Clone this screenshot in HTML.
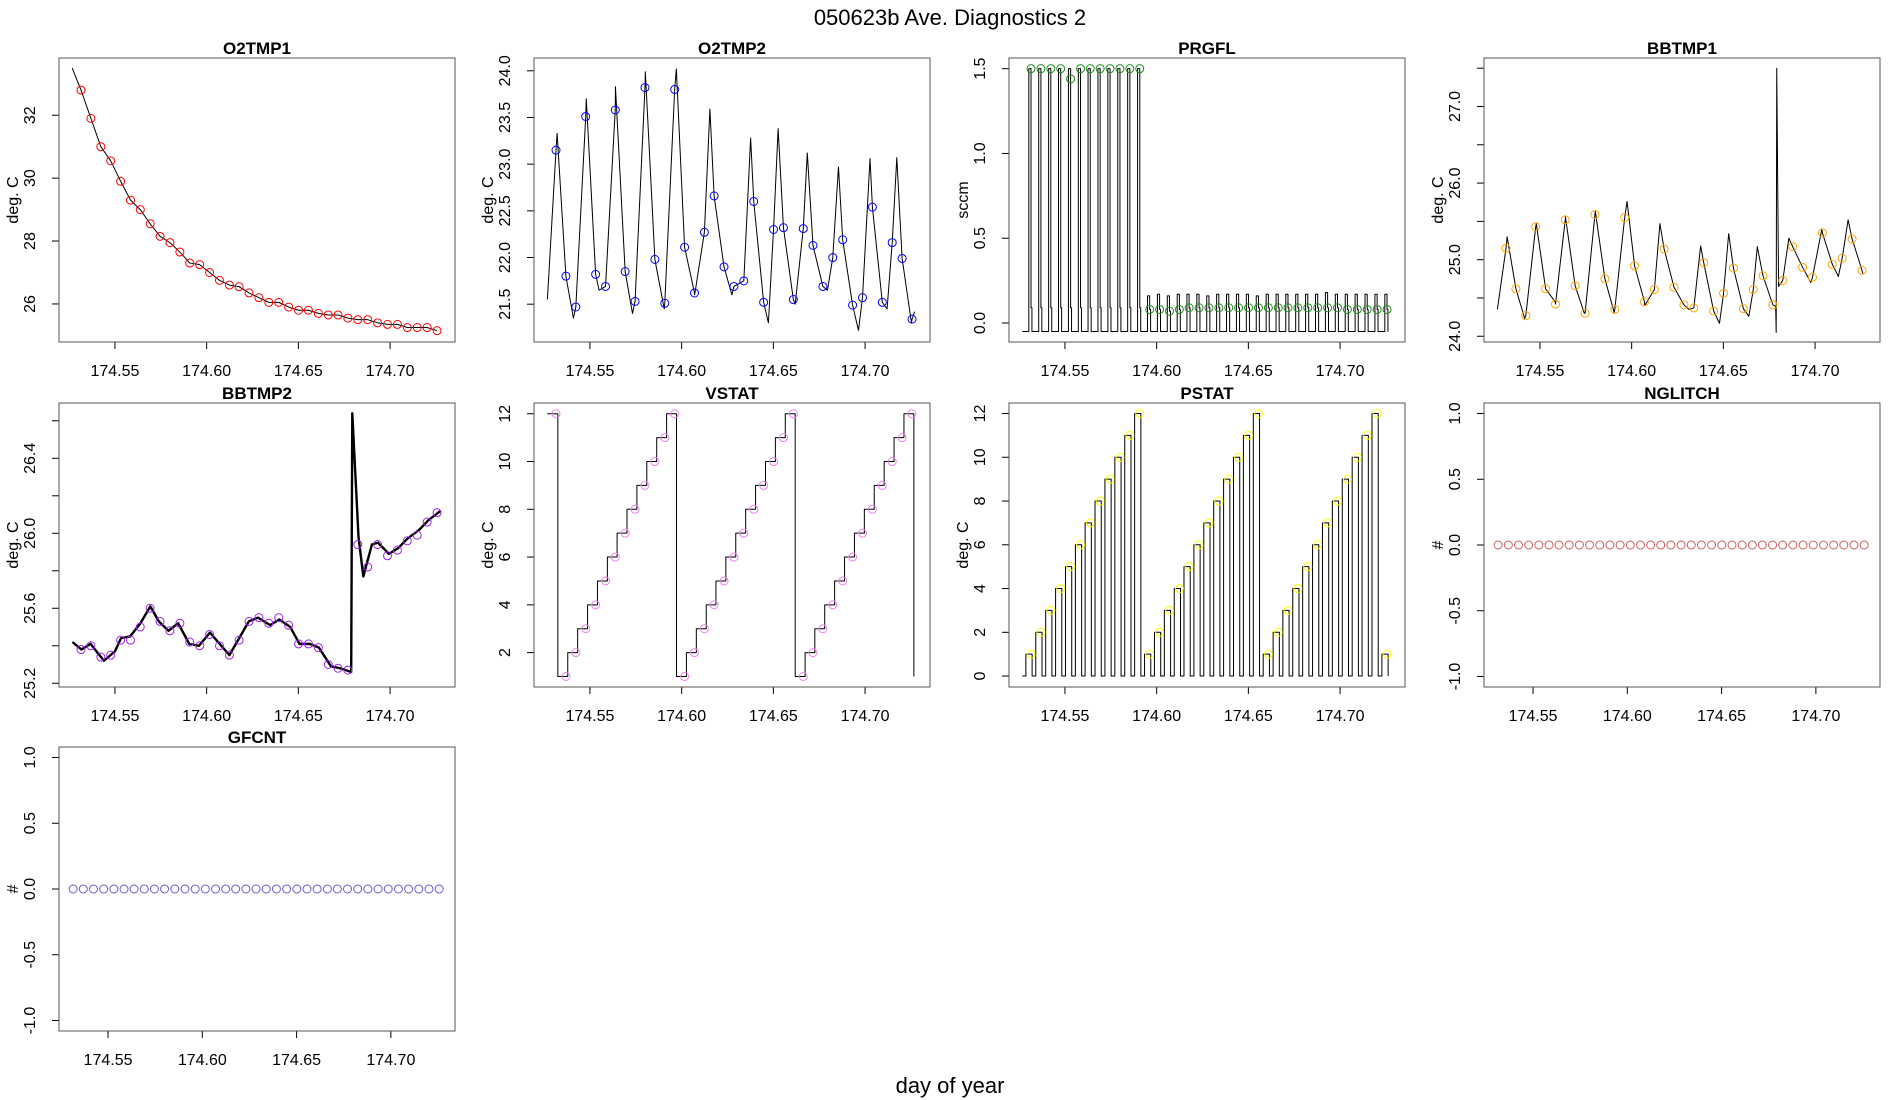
<!DOCTYPE html>
<html><head><meta charset="utf-8"><style>
html,body{margin:0;padding:0;background:#fff;}
svg{display:block;font-family:"Liberation Sans",sans-serif;}
</style></head><body>
<svg id="chart" width="1900" height="1100" viewBox="0 0 1900 1100" xmlns="http://www.w3.org/2000/svg">
<text x="950" y="25" text-anchor="middle" font-size="22" fill="#000">050623b   Ave. Diagnostics 2</text>
<text x="950" y="1093" text-anchor="middle" font-size="22" fill="#000">day of year</text>
</svg>
<script>
const circleT = [174.5315,174.5369,174.5423,174.5477,174.5531,174.5585,174.5638,174.5692,174.5746,174.5800,174.5854,174.5908,174.5962,174.6016,174.6070,174.6124,174.6177,174.6231,174.6285,174.6339,174.6393,174.6447,174.6501,174.6555,174.6609,174.6663,174.6716,174.6770,174.6824,174.6878,174.6932,174.6986,174.7040,174.7094,174.7148,174.7202,174.7256];
const xTicks = [174.55,174.60,174.65,174.70];
const xTickLabels = ["174.55","174.60","174.65","174.70"];

const o2tmp1Circles = [32.8,31.9,31.0,30.55,29.9,29.3,29.0,28.55,28.15,27.95,27.65,27.3,27.25,27.0,26.75,26.6,26.55,26.35,26.2,26.05,26.05,25.9,25.8,25.8,25.7,25.65,25.65,25.55,25.5,25.5,25.4,25.35,25.35,25.25,25.25,25.25,25.15];
const o2tmp1LineT = [174.5267];
const o2tmp1LineV = [33.5];

const o2tmp2Circles = [23.15,21.8,21.47,23.51,21.82,21.69,23.58,21.85,21.53,23.82,21.98,21.51,23.8,22.11,21.62,22.27,22.66,21.9,21.69,21.75,22.6,21.52,22.3,22.32,21.55,22.31,22.13,21.69,22.0,22.19,21.49,21.57,22.54,21.52,22.16,21.99,21.34];
const o2tmp2LineT = [174.5268,174.5321,174.5410,174.5480,174.5550,174.5639,174.5732,174.5802,174.5905,174.5971,174.6071,174.6154,174.6274,174.6376,174.6473,174.6526,174.6619,174.6685,174.6795,174.6855,174.6964,174.7027,174.7120,174.7173,174.7253,174.7270];
const o2tmp2LineV = [21.55,23.33,21.35,23.70,21.65,23.83,21.40,23.99,21.45,24.02,21.60,23.59,21.60,23.28,21.30,23.38,21.50,23.12,21.65,22.97,21.22,23.06,21.45,23.07,21.30,21.42];

const prgflPeak = [1.5,1.5,1.5,1.5,1.5,1.5,1.5,1.5,1.5,1.5,1.5,1.5,0.16,0.17,0.16,0.17,0.17,0.17,0.16,0.17,0.17,0.17,0.17,0.16,0.17,0.17,0.17,0.17,0.17,0.17,0.18,0.17,0.17,0.17,0.17,0.17,0.17];
const prgflMid = [0.09,0.09,0.09,0.09,0.09,0.09,0.09,0.09,0.09,0.09,0.09,0.09,0.08,0.08,0.07,0.08,0.09,0.09,0.09,0.09,0.09,0.09,0.09,0.09,0.09,0.09,0.09,0.09,0.09,0.09,0.09,0.09,0.08,0.08,0.08,0.08,0.08];
const prgflCircles = [1.5,1.5,1.5,1.5,1.44,1.5,1.5,1.5,1.5,1.5,1.5,1.5,0.08,0.08,0.07,0.08,0.09,0.09,0.09,0.09,0.09,0.09,0.09,0.09,0.09,0.09,0.09,0.09,0.09,0.09,0.09,0.09,0.08,0.08,0.08,0.08,0.08];
const prgflBase = -0.05;

const bbtmp1Circles = [25.15,24.62,24.27,25.43,24.62,24.42,25.52,24.66,24.3,25.59,24.75,24.35,25.55,24.92,24.45,24.61,25.14,24.64,24.41,24.37,24.96,24.33,24.56,24.89,24.36,24.61,24.79,24.41,24.73,25.17,24.9,24.77,25.35,24.94,25.02,25.27,24.86];
const bbtmp1LineT = [174.5268,174.5321,174.5417,174.5480,174.5583,174.5639,174.5742,174.5802,174.5905,174.5975,174.6071,174.6154,174.6313,174.6376,174.6479,174.6529,174.6639,174.6685,174.6785,174.6788,174.6791,174.6801,174.6857,174.6977,174.7037,174.7127,174.7180,174.7260];
const bbtmp1LineV = [24.35,25.30,24.23,25.47,24.45,25.56,24.30,25.63,24.31,25.76,24.40,25.47,24.35,25.18,24.17,25.34,24.26,25.17,24.39,24.05,27.50,24.65,25.28,24.70,25.40,24.78,25.52,24.82];

const bbtmp2Circles = [25.38,25.40,25.34,25.35,25.43,25.43,25.50,25.60,25.53,25.48,25.52,25.42,25.40,25.46,25.40,25.35,25.43,25.53,25.55,25.52,25.55,25.51,25.41,25.41,25.39,25.30,25.28,25.27,25.94,25.82,25.94,25.88,25.91,25.96,25.99,26.06,26.11];
const bbtmp2LineT = [174.5268,174.5317,174.5367,174.5440,174.5500,174.5533,174.5583,174.5639,174.5693,174.5739,174.5792,174.5845,174.5905,174.5958,174.6018,174.6124,174.6230,174.6280,174.6346,174.6396,174.6456,174.6506,174.6562,174.6612,174.6678,174.6728,174.6788,174.6794,174.6828,174.6854,174.6901,174.6934,174.6994,174.7043,174.7093,174.7160,174.7209,174.7276];
const bbtmp2LineV = [25.42,25.38,25.41,25.32,25.37,25.44,25.45,25.52,25.61,25.53,25.48,25.52,25.41,25.40,25.47,25.35,25.53,25.55,25.51,25.54,25.50,25.41,25.41,25.39,25.29,25.28,25.26,26.64,25.98,25.77,25.94,25.95,25.89,25.92,25.97,26.02,26.07,26.12];

const vstatCircles = [12,1,2,3,4,5,6,7,8,9,10,11,12,1,2,3,4,5,6,7,8,9,10,11,12,1,2,3,4,5,6,7,8,9,10,11,12];
const vstatEnd = 1;
const pstatCircles = [1,2,3,4,5,6,7,8,9,10,11,12,1,2,3,4,5,6,7,8,9,10,11,12,1,2,3,4,5,6,7,8,9,10,11,12,1];
const nglitchCircles = [0,0,0,0,0,0,0,0,0,0,0,0,0,0,0,0,0,0,0,0,0,0,0,0,0,0,0,0,0,0,0,0,0,0,0,0,0];
const gfcntCircles = [0,0,0,0,0,0,0,0,0,0,0,0,0,0,0,0,0,0,0,0,0,0,0,0,0,0,0,0,0,0,0,0,0,0,0,0,0];

const svg = document.getElementById('chart');
const NS = 'http://www.w3.org/2000/svg';
function mk(tag, attrs, parent){ const e=document.createElementNS(NS,tag); for(const k in attrs) e.setAttribute(k,attrs[k]); (parent||svg).appendChild(e); return e; }

const XD_LINE=[174.5195,174.7354], XD_PTS=[174.524,174.734];
function panel(o){
  const W=396, L=59+475*o.col, T=[58,403,747][o.row], B=[342,687,1031][o.row];
  const g=mk('g',{});
  
  
  const xs=v=>L+(v-o.xd[0])/(o.xd[1]-o.xd[0])*W;
  const ys=v=>B-(v-o.yd[0])/(o.yd[1]-o.yd[0])*(B-T);
  const t=mk('text',{x:L+W/2,y:T-4,'text-anchor':'middle','font-size':17,'font-weight':'bold'},g); t.textContent=o.title;
  
  
  const xa=mk('g',{},g);
  
  
  mk('line',{x1:xs(xTicks[0]),x2:xs(xTicks[xTicks.length-1]),y1:B,y2:B,stroke:'#000'},xa);
  xTicks.forEach((v,i)=>{ mk('line',{x1:xs(v),x2:xs(v),y1:B,y2:B+7,stroke:'#000'},xa);
    const tx=mk('text',{x:xs(v),y:B+34,'text-anchor':'middle','font-size':16},xa); tx.textContent=xTickLabels[i]; });
  const ya=mk('g',{},g);
  
  
  mk('line',{x1:L,x2:L,y1:ys(o.yt[0]),y2:ys(o.yt[o.yt.length-1]),stroke:'#000'},ya);
  const lx=L-24;
  o.yt.forEach((v,i)=>{ mk('line',{x1:L-7,x2:L,y1:ys(v),y2:ys(v),stroke:'#000'},ya);
    if(o.yl[i]!==''){ const ty=mk('text',{x:lx,y:ys(v),'text-anchor':'middle','font-size':16,transform:`rotate(-90 ${lx} ${ys(v)})`},ya); ty.textContent=o.yl[i]; }});
  const ax=L-41;
  const yl=mk('text',{x:ax,y:(T+B)/2,'text-anchor':'middle','font-size':16,transform:`rotate(-90 ${ax} ${(T+B)/2})`},g);
  yl.textContent=o.ylab;
  
  
  mk('rect',{x:L,y:T,width:W,height:B-T,fill:'none',stroke:'#555'},g);
  if(o.lineT){
    const d=o.lineT.map((v,i)=>(i?'L':'M')+xs(v).toFixed(2)+' '+ys(o.lineV[i]).toFixed(2)).join(' ');
    const p=mk('path',{d:d,fill:'none',stroke:'#000','stroke-width':o.lw||1,'stroke-linejoin':'round'},g);
    
    
  }
  const cg=mk('g',{},g);
  
  
  o.cv.forEach((v,i)=>{ const c=mk('circle',{cx:xs(circleT[i]),cy:ys(v),r:4,fill:'none',stroke:o.color,'stroke-width':1},cg);
    
     });
}
function mergeLine(kt,kv,cv){ const a=kt.map((t,i)=>[t,kv[i]]).concat(circleT.map((t,i)=>[t,cv[i]])); a.sort((p,q)=>p[0]-q[0]); return [a.map(p=>p[0]),a.map(p=>p[1])]; }

let m=mergeLine(o2tmp1LineT,o2tmp1LineV,o2tmp1Circles);
panel({key:'o2tmp1',title:'O2TMP1',ylab:'deg. C',row:0,col:0,xd:XD_LINE,yd:[24.79,33.82],yt:[26,28,30,32],yl:['26','28','30','32'],lineT:m[0],lineV:m[1],cv:o2tmp1Circles,color:'#ff0000'});
m=mergeLine(o2tmp2LineT,o2tmp2LineV,o2tmp2Circles);
panel({key:'o2tmp2',title:'O2TMP2',ylab:'deg. C',row:0,col:1,xd:XD_LINE,yd:[21.095,24.137],yt:[21.5,22,22.5,23,23.5,24],yl:['21.5','22.0','22.5','23.0','23.5','24.0'],lineT:m[0],lineV:m[1],cv:o2tmp2Circles,color:'#0000ff'});
const pT=[174.5267], pV=[prgflBase];
circleT.forEach((t,i)=>{ pT.push(t-0.0012,t-0.0012,t,t,t+0.0005,t+0.0005); pV.push(prgflBase,prgflPeak[i],prgflPeak[i],prgflMid[i],prgflMid[i],prgflBase); });
pT.push(174.7262); pV.push(prgflBase);
panel({key:'prgfl',title:'PRGFL',ylab:'sccm',row:0,col:2,xd:XD_LINE,yd:[-0.112,1.563],yt:[0,0.5,1,1.5],yl:['0.0','0.5','1.0','1.5'],lineT:pT,lineV:pV,cv:prgflCircles,color:'#228b22'});
m=mergeLine(bbtmp1LineT,bbtmp1LineV,bbtmp1Circles);
panel({key:'bbtmp1',title:'BBTMP1',ylab:'deg. C',row:0,col:3,xd:XD_LINE,yd:[23.925,27.633],yt:[24,24.5,25,25.5,26,26.5,27,27.5],yl:['24.0','','25.0','','26.0','','27.0',''],lineT:m[0],lineV:m[1],cv:bbtmp1Circles,color:'#ffa500'});
panel({key:'bbtmp2',title:'BBTMP2',ylab:'deg. C',row:1,col:0,xd:XD_LINE,yd:[25.18,26.695],yt:[25.2,25.4,25.6,25.8,26.0,26.2,26.4,26.6],yl:['25.2','','25.6','','26.0','','26.4',''],lineT:bbtmp2LineT,lineV:bbtmp2LineV,lw:2.4,cv:bbtmp2Circles,color:'#a020f0'});
const vT=[174.5267], vV=[vstatCircles[0]];
circleT.forEach((t,i)=>{ const nx=i+1<vstatCircles.length?vstatCircles[i+1]:vstatEnd; vT.push(t+0.001,t+0.001); vV.push(vstatCircles[i],nx); });
panel({key:'vstat',title:'VSTAT',ylab:'deg. C',row:1,col:1,xd:XD_LINE,yd:[0.56,12.45],yt:[2,4,6,8,10,12],yl:['2','4','6','8','10','12'],lineT:vT,lineV:vV,cv:vstatCircles,color:'#ee82ee'});
const sT=[174.5267], sV=[0];
circleT.forEach((t,i)=>{ sT.push(t-0.0028,t-0.0028,t+0.0006,t+0.0006); sV.push(0,pstatCircles[i],pstatCircles[i],0); });
sT.push(174.7262); sV.push(0);
panel({key:'pstat',title:'PSTAT',ylab:'deg. C',row:1,col:2,xd:XD_LINE,yd:[-0.5,12.48],yt:[0,2,4,6,8,10,12],yl:['0','2','4','6','8','10','12'],lineT:sT,lineV:sV,cv:pstatCircles,color:'#ffff00'});
panel({key:'nglitch',title:'NGLITCH',ylab:'#',row:1,col:3,xd:XD_PTS,yd:[-1.08,1.08],yt:[-1,-0.5,0,0.5,1],yl:['-1.0','-0.5','0.0','0.5','1.0'],cv:nglitchCircles,color:'#cd5c5c'});
panel({key:'gfcnt',title:'GFCNT',ylab:'#',row:2,col:0,xd:XD_PTS,yd:[-1.08,1.08],yt:[-1,-0.5,0,0.5,1],yl:['-1.0','-0.5','0.0','0.5','1.0'],cv:gfcntCircles,color:'#6a5acd'});
</script>
</body></html>
